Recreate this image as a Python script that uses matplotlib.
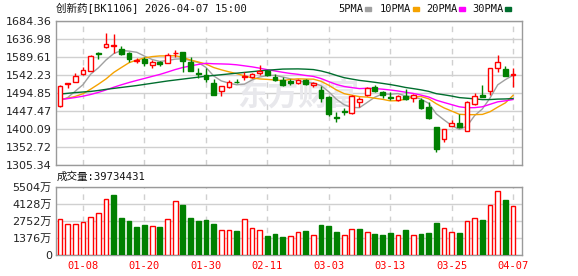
import matplotlib
matplotlib.use('Agg')
import matplotlib.pyplot as plt
import numpy as np
from matplotlib.patches import Rectangle

plt.rcParams['font.family'] = ['DejaVu Sans', 'Noto Sans CJK SC']

# ---------------- data ----------------
title_text = "创新药[BK1106] 2026-04-07 15:00"
volume_text = "成交量:39734431"

opens = [1460.6, 1518.0, 1524.6, 1544.1, 1553.6, 1599.0, 1615.1, 1619.0, 1609.9, 1601.0,
         1580.0, 1584.3, 1568.6, 1577.3, 1574.6, 1599.0, 1602.0, 1577.3, 1547.0, 1542.2,
         1522.0, 1501.0, 1511.5, 1525.0, 1537.0, 1538.0, 1548.3, 1553.6, 1537.8, 1529.0,
         1527.3, 1520.4, 1529.0, 1515.9, 1504.0, 1485.1, 1432.0, 1448.0, 1441.4, 1472.0,
         1489.6, 1510.0, 1498.3, 1484.0, 1476.4, 1487.0, 1482.5, 1476.4, 1457.2, 1404.6,
         1373.8, 1408.8, 1415.0, 1395.6, 1465.0, 1489.6, 1500.1, 1559.9, 1558.0, 1541.5]
highs = [1516.0, 1522.0, 1546.7, 1564.0, 1595.7, 1603.6, 1652.0, 1650.0, 1618.6, 1603.6,
         1587.0, 1588.8, 1583.0, 1579.0, 1599.3, 1608.0, 1602.0, 1588.8, 1560.0, 1560.0,
         1530.9, 1513.3, 1529.0, 1531.0, 1549.3, 1547.0, 1568.6, 1555.0, 1544.9, 1536.2,
         1533.0, 1533.0, 1531.0, 1523.0, 1513.0, 1487.0, 1445.6, 1454.5, 1489.0, 1483.5,
         1510.0, 1516.0, 1500.0, 1498.0, 1489.0, 1505.0, 1492.0, 1481.0, 1472.0, 1405.0,
         1400.0, 1423.8, 1438.7, 1474.0, 1495.7, 1515.9, 1560.0, 1594.9, 1566.0, 1559.9]
lows = [1457.0, 1509.0, 1523.0, 1542.0, 1552.0, 1583.6, 1614.0, 1599.3, 1594.9, 1577.0,
        1575.0, 1566.0, 1561.5, 1566.0, 1573.0, 1590.0, 1551.0, 1553.0, 1533.5, 1524.6,
        1489.0, 1487.0, 1507.0, 1520.0, 1529.0, 1535.0, 1542.0, 1540.0, 1526.0, 1514.0,
        1515.0, 1519.0, 1515.0, 1511.5, 1472.0, 1434.3, 1419.0, 1437.0, 1440.0, 1458.8,
        1488.0, 1497.0, 1481.0, 1476.0, 1474.0, 1476.0, 1472.0, 1453.0, 1427.0, 1338.8,
        1367.0, 1407.0, 1403.0, 1395.0, 1463.0, 1484.0, 1489.6, 1551.0, 1539.0, 1509.8]
closes = [1513.3, 1521.0, 1539.6, 1555.4, 1593.0, 1597.0, 1624.5, 1622.5, 1597.5, 1583.6,
          1582.0, 1574.6, 1577.3, 1572.0, 1594.9, 1601.0, 1579.9, 1553.6, 1546.0, 1530.9,
          1489.6, 1513.3, 1524.6, 1524.0, 1539.0, 1544.0, 1553.6, 1542.2, 1529.0, 1515.9,
          1520.4, 1529.0, 1518.0, 1522.0, 1482.0, 1439.6, 1430.0, 1446.0, 1487.0, 1478.3,
          1508.8, 1499.0, 1489.6, 1482.0, 1487.0, 1478.3, 1489.6, 1456.2, 1428.3, 1347.5,
          1399.3, 1415.1, 1404.6, 1472.0, 1487.7, 1485.0, 1559.9, 1577.3, 1540.4, 1545.6]

ma5 = [1474.7, 1482.9, 1499.8, 1516.9, 1544.5, 1561.2, 1581.9, 1598.5, 1606.9, 1605.0,
       1602.0, 1592.0, 1583.0, 1577.9, 1580.2, 1584.0, 1585.0, 1580.3, 1575.1, 1562.3,
       1540.0, 1526.7, 1520.9, 1516.5, 1518.1, 1529.0, 1537.0, 1540.6, 1541.6, 1536.9,
       1532.2, 1527.3, 1522.5, 1521.1, 1514.3, 1498.1, 1478.3, 1463.9, 1456.9, 1456.2,
       1470.0, 1483.8, 1492.5, 1491.5, 1493.3, 1487.2, 1485.3, 1478.6, 1467.9, 1440.0,
       1424.2, 1409.3, 1399.0, 1407.7, 1435.7, 1452.9, 1481.8, 1516.4, 1530.1, 1541.6]
ma10 = [1477.0, 1481.0, 1486.0, 1493.0, 1505.0, 1518.0, 1532.0, 1549.0, 1562.0, 1574.7,
        1581.6, 1587.0, 1590.7, 1592.4, 1592.6, 1593.0, 1588.5, 1581.6, 1576.5, 1571.2,
        1562.0, 1555.9, 1550.6, 1545.8, 1540.2, 1534.5, 1531.9, 1530.7, 1529.0, 1527.5,
        1530.6, 1532.2, 1531.5, 1531.3, 1525.6, 1515.2, 1502.8, 1493.2, 1489.0, 1485.2,
        1484.1, 1481.1, 1478.2, 1474.2, 1474.7, 1478.6, 1484.6, 1485.6, 1479.7, 1466.6,
        1455.7, 1447.3, 1438.8, 1437.8, 1437.9, 1438.5, 1445.6, 1457.7, 1468.9, 1488.7]
ma20 = [1478.0, 1480.0, 1483.0, 1486.5, 1491.0, 1496.5, 1503.0, 1510.0, 1516.5, 1522.5,
        1528.0, 1533.2, 1538.6, 1543.7, 1550.0, 1556.5, 1562.0, 1566.2, 1570.0, 1573.0,
        1571.8, 1571.4, 1570.7, 1569.1, 1566.4, 1563.7, 1560.2, 1556.2, 1552.8, 1549.4,
        1546.3, 1544.0, 1541.0, 1538.5, 1532.9, 1524.8, 1517.3, 1512.0, 1509.0, 1506.4,
        1507.3, 1506.6, 1504.9, 1502.8, 1500.2, 1496.9, 1493.7, 1489.4, 1484.4, 1475.9,
        1469.9, 1464.2, 1458.5, 1456.0, 1456.3, 1458.6, 1465.1, 1471.6, 1474.3, 1477.7]
ma30 = [1492.0, 1494.0, 1496.0, 1497.5, 1499.0, 1501.5, 1504.5, 1507.0, 1509.5, 1512.0,
        1514.5, 1517.5, 1520.5, 1523.5, 1526.5, 1529.0, 1531.5, 1534.0, 1536.5, 1539.0,
        1541.0, 1543.0, 1545.0, 1547.0, 1549.0, 1551.0, 1553.0, 1554.8, 1556.3, 1557.8,
        1558.1, 1558.3, 1557.6, 1556.5, 1552.8, 1547.6, 1541.1, 1535.2, 1531.5, 1528.0,
        1525.6, 1523.0, 1520.1, 1517.1, 1513.5, 1509.4, 1506.4, 1503.2, 1499.2, 1493.1,
        1490.1, 1486.8, 1482.8, 1481.1, 1479.4, 1477.4, 1477.6, 1478.8, 1479.2, 1480.2]

volumes = [2877, 2499, 2499, 2660, 3063, 3385, 4514, 4860, 2982, 2740,
           2281, 2418, 2337, 2281, 2877, 4352, 4054, 2970, 2740, 2821,
           2499, 2015, 2015, 1934, 2877, 2150, 2015, 1531, 1693, 1424,
           1531, 1854, 1934, 1585, 2418, 2337, 1854, 1585, 2069, 2096,
           1854, 1693, 1612, 1800, 1585, 2015, 1585, 1693, 1800, 2606,
           2150, 1854, 1800, 2740, 2958, 2821, 4030, 5158, 4433, 3973]

price_ticks = [1305.34, 1352.72, 1400.09, 1447.47, 1494.85, 1542.23, 1589.61, 1636.98, 1684.36]
vol_ticks = [0, 1376, 2752, 4128, 5504]
vol_tick_labels = ["0", "1376万", "2752万", "4128万", "5504万"]
date_tick_pos = [3, 11, 19, 27, 35, 43, 51, 59]
date_tick_labels = ["01-08", "01-20", "01-30", "02-11", "03-03", "03-13", "03-25", "04-07"]

ma_labels = ["5PMA", "10PMA", "20PMA", "30PMA"]
ma_colors = ["#a0a0a0", "#f5a200", "#ff00ff", "#006e2e"]

# ---------------- figure ----------------
W, H = 578, 276
fig = plt.figure(figsize=(W / 100, H / 100), dpi=100)

def fx(px):
    return px / W

def fy(py):
    return 1 - py / H

ax = fig.add_axes([fx(56), fy(165), 466 / W, 144 / H])
axv = fig.add_axes([fx(56), fy(255), 466 / W, 68 / H])

RED = "#ff0000"
GREEN = "#008000"
SPINE = "#9a9a9a"
GRID = "#d0d0d0"

o = np.array(opens); c = np.array(closes); h = np.array(highs); l = np.array(lows)
x = np.arange(len(c))
up = c >= o
col = np.where(up, RED, GREEN)
body_lo = np.minimum(o, c)
body_hi = np.maximum(o, c)

# moving averages
for vals, colr in zip([ma5, ma10, ma20, ma30], ma_colors):
    ax.plot(x, vals, color=colr, lw=1.0, zorder=2)

# candles
ax.vlines(x, l, body_lo, colors=col, lw=1.0, zorder=3)
ax.vlines(x, body_hi, h, colors=col, lw=1.0, zorder=3)
ax.bar(x, body_hi - body_lo, bottom=body_lo, width=0.62,
       color=np.where(up, "white", GREEN), edgecolor=col, linewidth=1.0, zorder=4)

xlim = (-0.52, 60.16)
ax.set_xlim(*xlim)
ax.set_ylim(price_ticks[0], price_ticks[-1])
ax.set_yticks(price_ticks)
ax.set_yticklabels([f"{v:.2f}" for v in price_ticks])
ax.set_xticks(date_tick_pos)
ax.set_xticklabels([])
ax.tick_params(axis='both', length=0)
ax.tick_params(axis='y', pad=3, labelsize=8, labelcolor="#222222")
ax.grid(axis='y', color=GRID, lw=1.0, ls='-')
ax.grid(axis='x', color=GRID, lw=1.0, ls=(0, (4, 4)))
ax.set_axisbelow(True)
for s in ax.spines.values():
    s.set_color(SPINE)
    s.set_linewidth(1.0)

# watermark
ax.text(0.52, 0.48, "东方财富", transform=ax.transAxes, ha='center', va='center',
        fontsize=22, fontweight='bold', color="#e8e8ec", zorder=1,
        family=['Noto Sans CJK SC'])

# volume
vol = np.array(volumes)
vup = np.r_[True, c[1:] >= c[:-1]]
vcol = np.where(vup, RED, GREEN)
axv.bar(x, vol, width=0.62, color=np.where(vup, "white", GREEN), edgecolor=vcol,
        linewidth=1.0, zorder=3)
axv.set_xlim(*xlim)
axv.set_ylim(0, vol_ticks[-1])
axv.set_yticks(vol_ticks)
axv.set_yticklabels(vol_tick_labels)
axv.set_xticks(date_tick_pos)
axv.set_xticklabels(date_tick_labels, family=['DejaVu Sans Mono'], fontsize=7.5, color=RED)
axv.tick_params(axis='both', length=0)
axv.tick_params(axis='y', pad=3, labelsize=8, labelcolor="#222222")
axv.tick_params(axis='x', pad=4)
axv.grid(axis='y', color=GRID, lw=1.0, ls='-')
axv.grid(axis='x', color=GRID, lw=1.0, ls=(0, (4, 4)))
axv.set_axisbelow(True)
for s in axv.spines.values():
    s.set_color(SPINE)
    s.set_linewidth(1.0)

# title and texts
mono_cjk = ['DejaVu Sans Mono', 'Noto Sans CJK SC']
fig.text(fx(56), fy(9), title_text, ha='left', va='center', fontsize=7.6,
         family=mono_cjk, color="#111111")
fig.text(fx(57), fy(177), volume_text, ha='left', va='center', fontsize=7.6,
         family=mono_cjk, color="#111111")

# legend
leg_text_x = [338, 380, 426, 472]
for lab, colr, lx in zip(ma_labels, ma_colors, leg_text_x):
    fig.text(fx(lx), fy(9), lab, ha='left', va='center', fontsize=7.5,
             family=['DejaVu Sans Mono'], color="#111111")
    mx = lx + len(lab) * 5.9 + 3
    fig.patches.append(Rectangle((fx(mx), fy(10.5)), 6 / W, 3.5 / H,
                                 transform=fig.transFigure, color=colr))

fig.savefig("out.png", dpi=100)
